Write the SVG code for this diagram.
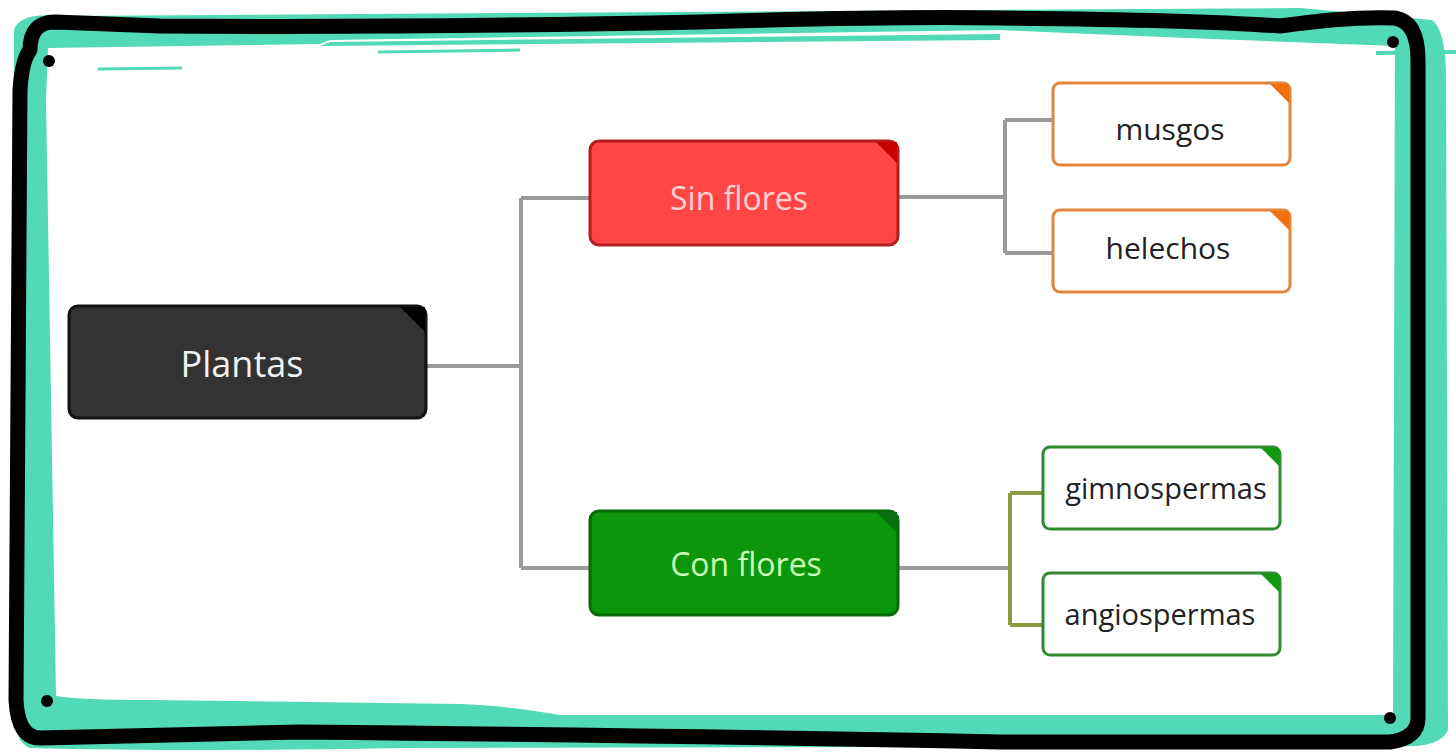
<svg xmlns="http://www.w3.org/2000/svg" width="1456" height="754" viewBox="0 0 1456 754">
<style>
.lbl{font-family:"Open Sans","Noto Sans","Liberation Sans",sans-serif;text-anchor:middle;dominant-baseline:central}
.conn{fill:none;stroke:#9a9a9a;stroke-width:4}
.olive{fill:none;stroke:#8c9a40;stroke-width:4}
.dot{fill:#000}
</style>
<rect width="1456" height="754" fill="#fff"/>
<g id="frame">
<path d="M14,30 Q20,12 60,16 L1300,8 L1432,20 Q1446,30 1446,80 L1448,730 Q1440,748 1400,746 L400,748 Q200,752 30,748 Q12,742 14,700 Z" fill="#52d9b5"/>
<path d="M48,48 L320,44 L330,40 L1000,30 Q1180,38 1395,46 L1393,715 L560,715 Q500,705 460,704 L150,700 Q80,700 56,696 L46,100 Z" fill="#fff"/>
<path d="M330,42 L1000,34 L1000,40 L320,46 Z" fill="#52d9b5"/>
<path d="M98,69 L182,68" stroke="#52d9b5" stroke-width="3" fill="none"/>
<path d="M378,52 L520,50" stroke="#52d9b5" stroke-width="3" fill="none"/>
<path d="M1376,53 L1460,52" stroke="#52d9b5" stroke-width="4" fill="none"/>
<path d="M30,50 Q30,22 55,22 L160,26 Q400,28 700,22 Q900,16 1000,18 Q1200,20 1280,26 Q1350,16 1395,18 Q1418,22 1418,60 L1418,718 Q1418,738 1390,742 L1000,742 Q700,736 300,732 L40,738 Q18,738 16,700 L20,90 Q22,60 30,50 Z" fill="none" stroke="#000" stroke-width="15" stroke-linejoin="round"/>
<circle class="dot" cx="49" cy="61" r="6"/>
<circle class="dot" cx="1393" cy="42" r="6"/>
<circle class="dot" cx="47" cy="701" r="6"/>
<circle class="dot" cx="1390" cy="718" r="6"/>
</g>
<g id="connectors">
<path class="conn" d="M426,366 H521 M521,198 V568 M521,198 H590 M521,568 H590"/>
<path class="conn" d="M898,197 H1005 M1005,120 V253 M1005,120 H1053 M1005,253 H1053"/>
<path class="conn" d="M898,568 H1010"/>
<path class="olive" d="M1010,493 V625 M1010,493 H1043 M1010,625 H1043"/>
</g>
<g id="plantas">
<rect x="69" y="306" width="357" height="112" rx="9" fill="#333" stroke="#111" stroke-width="3"/>
<path d="M400,307 L425,307 L425,332 Z" fill="#000"/>
<text class="lbl" x="242" y="363" font-size="36" fill="#f2f2f2">Plantas</text>
</g>
<g id="sin-flores">
<rect x="590" y="141" width="308" height="104" rx="9" fill="#ff4646" stroke="#b21e1e" stroke-width="3"/>
<path d="M876,142 L897,142 L897,163 Z" fill="#c80000"/>
<text class="lbl" x="739" y="197" font-size="32" fill="#ffd2d2">Sin flores</text>
</g>
<g id="con-flores">
<rect x="590" y="511" width="308" height="104" rx="9" fill="#0b960b" stroke="#066a06" stroke-width="3"/>
<path d="M876,512 L897,512 L897,533 Z" fill="#0a7010"/>
<text class="lbl" x="746" y="563" font-size="32" fill="#c8ffb4">Con flores</text>
</g>
<g id="musgos">
<rect x="1053" y="83" width="237" height="82" rx="7" fill="#fff" stroke="#e0853a" stroke-width="3"/>
<path d="M1270,84 L1289,84 L1289,103 Z" fill="#f07010"/>
<text class="lbl" x="1170" y="128" font-size="30" fill="#222">musgos</text>
</g>
<g id="helechos">
<rect x="1053" y="210" width="237" height="82" rx="7" fill="#fff" stroke="#e0853a" stroke-width="3"/>
<path d="M1270,211 L1289,211 L1289,230 Z" fill="#f07010"/>
<text class="lbl" x="1168" y="247" font-size="30" fill="#222">helechos</text>
</g>
<g id="gimnospermas">
<rect x="1043" y="447" width="237" height="82" rx="7" fill="#fff" stroke="#2f8a30" stroke-width="3"/>
<path d="M1261,448 L1279,448 L1279,466 Z" fill="#119a11"/>
<text class="lbl" x="1166" y="487" font-size="29" fill="#222">gimnospermas</text>
</g>
<g id="angiospermas">
<rect x="1043" y="573" width="237" height="82" rx="7" fill="#fff" stroke="#2f8a30" stroke-width="3"/>
<path d="M1261,574 L1279,574 L1279,592 Z" fill="#119a11"/>
<text class="lbl" x="1160" y="613" font-size="29" fill="#222">angiospermas</text>
</g>
</svg>
